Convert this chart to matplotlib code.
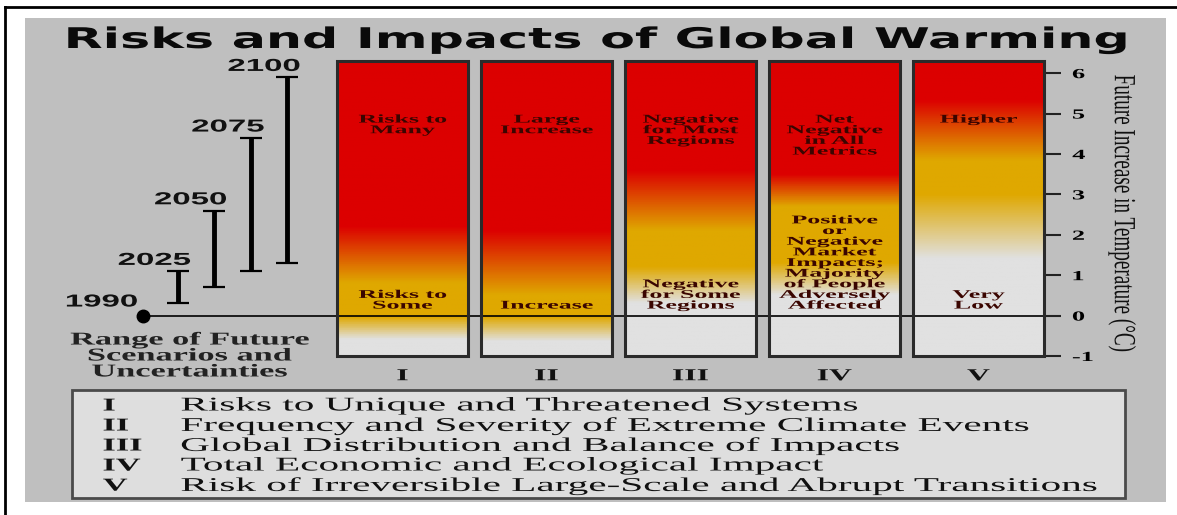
import matplotlib
matplotlib.use("Agg")
import matplotlib.pyplot as plt
import numpy as np
from matplotlib.colors import LinearSegmentedColormap
from matplotlib.patches import Rectangle
from matplotlib.lines import Line2D
from matplotlib.patheffects import AbstractPathEffect
from matplotlib.transforms import Affine2D

# ---- data -------------------------------------------------------------
columns = ["I", "II", "III", "IV", "V"]
upper_labels = ["Risks to\nMany", "Large\nIncrease", "Negative\nfor Most\nRegions",
                "Net\nNegative\nin All\nMetrics", "Higher"]
lower_labels = ["Risks to\nSome", "Increase", "Negative\nfor Some\nRegions",
                "Positive\nor\nNegative\nMarket\nImpacts;\nMajority\nof People\nAdversely\nAffected",
                "Very\nLow"]
# where the colour changes in each column (deg C)
grey_top = [-0.6, -0.65, 0.3, 0.5, 1.4]
yellow_lo = [-0.05, -0.05, 1.2, 1.3, 3.0]
yellow_hi = [0.8, 0.5, 2.1, 2.7, 3.85]
red_lo = [2.2, 2.1, 3.6, 3.5, 5.35]

years = ["2025", "2050", "2075", "2100"]
range_low = [0.3, 0.7, 1.1, 1.3]
range_high = [1.1, 2.6, 4.4, 5.9]

temp_ticks = [-1, 0, 1, 2, 3, 4, 5, 6]

descriptions = [
    "Risks to Unique and Threatened Systems",
    "Frequency and Severity of Extreme Climate Events",
    "Global Distribution and Balance of Impacts",
    "Total Economic and Ecological Impact",
    "Risk of Irreversible Large-Scale and Abrupt Transitions",
]

RED = "#dc0000"
YELLOW = "#dfa800"
GREY = "#e1e1e1"
TXT = "#3a0500"


class Widen(AbstractPathEffect):
    """stretch text horizontally (the original artwork is wide)"""

    def __init__(self, sx, anchor="center"):
        super().__init__()
        self.sx = sx
        self.anchor = anchor

    def draw_path(self, renderer, gc, tpath, affine, rgbFace=None):
        bb = tpath.get_extents(affine)
        x0 = {"left": bb.x0, "center": 0.5 * (bb.x0 + bb.x1), "right": bb.x1}[self.anchor]
        t = affine + Affine2D().translate(-x0, 0).scale(self.sx, 1).translate(x0, 0)
        renderer.draw_path(gc, tpath, t, rgbFace)


W, H = 1177, 515
fig = plt.figure(figsize=(W / 100, H / 100), dpi=100)
fig.patch.set_facecolor("white")


def fx(x):
    return x / W


def fy(y):
    return 1 - y / H


# grey panel + frame
fig.add_artist(Rectangle((fx(25), fy(502)), fx(1166) - fx(25), fy(18) - fy(502),
                         transform=fig.transFigure, fc="#bfbfbf", ec="none", zorder=-2))
fig.add_artist(Line2D([fx(5), fx(5)], [fy(7), 0], transform=fig.transFigure, color="black", lw=2))
fig.add_artist(Line2D([fx(5), 1], [fy(7), fy(7)], transform=fig.transFigure, color="black", lw=2))

fig.text(fx(597), fy(48), "Risks and Impacts of Global Warming", ha="center", va="baseline",
         fontsize=20.5, fontweight="bold", family="DejaVu Sans", color="#0a0a0a",
         path_effects=[Widen(1.78)])

ax = fig.add_axes([fx(30), fy(356), fx(1046) - fx(30), fy(61) - fy(356)])
ax.patch.set_visible(False)
xmin, xmax = -2.587, 4.469
ymin, ymax = -1, 6.3

temps = np.linspace(ymin, ymax, 400)[:, None]
half = 0.455
serif = "Liberation Serif"
for i, col in enumerate(columns):
    pos = lambda v: (v - ymin) / (ymax - ymin)
    cmap = LinearSegmentedColormap.from_list(
        f"col{i}",
        [(0, GREY), (pos(grey_top[i]), GREY), (pos(yellow_lo[i]), YELLOW),
         (pos(yellow_hi[i]), YELLOW), (pos(red_lo[i]), RED), (1, RED)])
    ax.imshow(temps, cmap=cmap, vmin=ymin, vmax=ymax, origin="lower", aspect="auto",
              extent=[i - half, i + half, ymin, ymax], zorder=1)
    ax.add_patch(Rectangle((i - half, ymin), 2 * half, ymax - ymin, fill=False,
                           ec="#2a2a2a", lw=2.2, zorder=3, clip_on=False))
    ax.text(i, 5.0, upper_labels[i], ha="center", va="top", fontsize=8.5, fontweight="bold",
            family=serif, color=TXT, linespacing=0.85, zorder=4,
            path_effects=[Widen(2.2)])
    ax.text(i, 0.1, lower_labels[i], ha="center", va="bottom", fontsize=8.5, fontweight="bold",
            family=serif, color=TXT, linespacing=0.85, zorder=4,
            path_effects=[Widen(2.2)])
    ax.text(i, -1.5, col, ha="center", va="center", fontsize=12, fontweight="bold",
            family=serif, color="#111111", path_effects=[Widen(1.9)])

# scenario ranges
base_x = -1.80
scen_x = [-1.56, -1.31, -1.05, -0.80]
lo = np.array(range_low)
hi = np.array(range_high)
mid = (lo + hi) / 2
ax.errorbar(scen_x, mid, yerr=[mid - lo, hi - mid], fmt="none", ecolor="black",
            elinewidth=3.5, capsize=8, capthick=1.6, zorder=4)
for x, h, yr in zip(scen_x, hi, years):
    ax.text(x + 0.09, h + 0.08, yr, ha="right", va="bottom", fontsize=12.5, fontweight="bold",
            family="Liberation Sans", color="#111111", path_effects=[Widen(1.9, "right")])
ax.plot(base_x, 0, "o", ms=9, color="black", zorder=5, clip_on=False)
ax.text(base_x - 0.04, 0.15, "1990", ha="right", va="bottom", fontsize=12.5, fontweight="bold",
        family="Liberation Sans", color="#111111", path_effects=[Widen(1.9, "right")])
ax.hlines(0, base_x, xmax, color="black", lw=1.2, zorder=2.5)

ax.text(-1.479, -1.0, "Range of Future\nScenarios and\nUncertainties", ha="center", va="center",
        fontsize=13, fontweight="bold", family=serif, color="#222222", linespacing=0.92,
        path_effects=[Widen(1.9)])

ax.set_xlim(xmin, xmax)
ax.set_ylim(ymin, ymax)
ax.set_xticks([])
ax.yaxis.tick_right()
ax.set_yticks(temp_ticks, labels=[str(t) for t in temp_ticks])
ax.tick_params(axis="y", length=11, width=1.5, pad=8, labelsize=10, color="#222222")
for lbl in ax.get_yticklabels():
    lbl.set_family(serif)
    lbl.set_fontweight("bold")
    lbl.set_path_effects([Widen(1.9, "left")])
for s in ax.spines.values():
    s.set_visible(False)

ax.text(1.075, 0.485, "Future Increase in Temperature (°C)", transform=ax.transAxes,
        rotation=270, ha="center", va="center", fontsize=13.8, family=serif, color="#111111",
        path_effects=[Widen(1.6)])

# legend box
fig.add_artist(Rectangle((fx(72), fy(498)), fx(1125) - fx(72), fy(390) - fy(498),
                         transform=fig.transFigure, fc="#dedede", ec="#4a4a4a", lw=2, zorder=-1))
for k, (num, desc) in enumerate(zip(columns, descriptions)):
    yy = fy(406 + 20 * k)
    fig.text(fx(103), yy, num, ha="left", va="center", fontsize=13, fontweight="bold",
             family=serif, color="#111111", path_effects=[Widen(1.9, "left")])
    fig.text(fx(181), yy, desc, ha="left", va="center", fontsize=14, family=serif,
             color="#111111", path_effects=[Widen(2.12, "left")])

fig.savefig("out.png", dpi=100)
